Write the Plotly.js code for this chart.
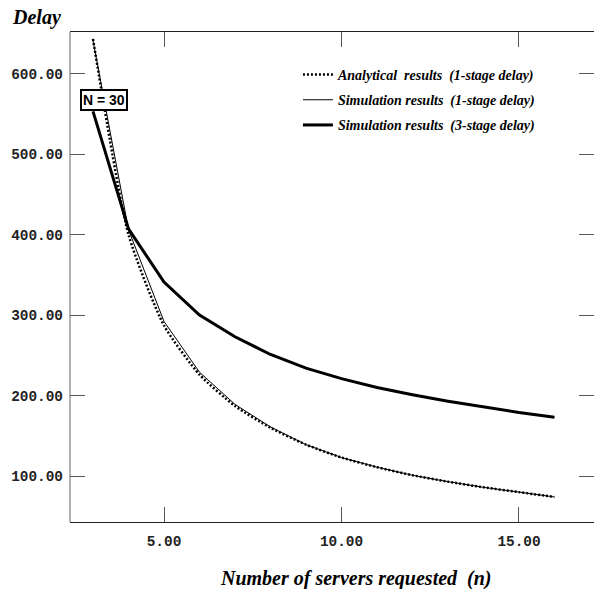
<!DOCTYPE html>
<html>
<head>
<meta charset="utf-8">
<script src="https://cdn.plot.ly/plotly-3.0.1.min.js"></script>
<style>
  html, body { margin: 0; padding: 0; background: #fff; }
  #chart { width: 594px; height: 589px; }
</style>
</head>
<body>
<div id="chart"></div>
<script>
// Number of servers requested (n)
const servers = [3, 4, 5, 6, 7, 8, 9, 10, 11, 12, 13, 14, 15, 16];

// Mean delay, N = 30
const analytical1Stage = [643, 400, 287, 226, 187, 160, 139, 123, 111, 101, 93, 86, 80, 74];
const simulation1Stage = [641, 406, 292, 229, 189, 161, 139, 123, 111, 101, 93, 86, 80, 74];
const simulation3Stage = [553, 407, 341, 300, 273, 251, 234, 221, 210, 201, 193, 186, 179, 173];

const seriesNames = [
  'Analytical\u00a0 results\u00a0 (1-stage delay)',
  'Simulation results\u00a0 (1-stage delay)',
  'Simulation results\u00a0 (3-stage delay)'
];

const serif = 'Liberation Serif, serif';
const mono = 'Liberation Mono, monospace';

const traces = [
  {
    x: servers, y: analytical1Stage, name: seriesNames[0], legendgroup: 'a',
    mode: 'lines', line: { color: '#000', width: 2.5, dash: '2px,2px', shape: 'spline', smoothing: 0.6 }
  },
  {
    x: servers, y: simulation1Stage, name: seriesNames[1], legendgroup: 'b',
    mode: 'lines', line: { color: '#000', width: 1 }
  },
  {
    x: servers, y: simulation3Stage, name: seriesNames[2], legendgroup: 'c',
    mode: 'lines', line: { color: '#000', width: 3 }
  }
];

const tickFont = { family: mono, size: 14.4, weight: 700, color: '#222' };

const layout = {
  width: 594,
  height: 589,
  margin: { l: 70, r: 0, t: 32, b: 67 },
  paper_bgcolor: '#fff',
  plot_bgcolor: '#fff',
  showlegend: true,
  legend: {
    x: 0.435, xanchor: 'left',
    y: 0.945, yanchor: 'top',
    bgcolor: 'rgba(0,0,0,0)',
    traceorder: 'grouped',
    tracegroupgap: 4,
    font: { family: serif, size: 14, weight: 700, style: 'italic', color: '#000' }
  },
  xaxis: {
    range: [2.352, 17.113],
    tickvals: [5, 10, 15],
    tickformat: '.2f',
    ticks: 'inside', ticklen: 15, tickwidth: 1, tickcolor: '#555',
    ticklabelstandoff: 6,
    showline: true, linecolor: '#222', linewidth: 1,
    mirror: 'ticks',
    showgrid: false, zeroline: false,
    tickfont: tickFont
  },
  yaxis: {
    range: [42.9, 651.6],
    tickvals: [100, 200, 300, 400, 500, 600],
    tickformat: '.2f',
    ticks: 'inside', ticklen: 15, tickwidth: 1, tickcolor: '#555',
    ticklabelstandoff: 6,
    showline: false,
    mirror: 'ticks',
    showgrid: false, zeroline: false,
    tickfont: tickFont
  },
  shapes: [
    // left axis line
    { type: 'line', xref: 'paper', yref: 'paper', x0: 0, x1: 0, y0: 0, y1: 1,
      line: { color: '#666', width: 1 } }
  ],
  annotations: [
    {
      text: 'Delay', xref: 'paper', yref: 'paper',
      x: -0.0630, y: 1.0306, xanchor: 'center', yanchor: 'middle', showarrow: false,
      font: { family: serif, size: 20, weight: 700, style: 'italic', color: '#000' }
    },
    {
      text: 'Number of servers requested\u00a0 (n)', xref: 'paper', yref: 'paper',
      x: 0.5454, y: -0.1143, xanchor: 'center', yanchor: 'middle', showarrow: false,
      font: { family: serif, size: 20, weight: 700, style: 'italic', color: '#000' }
    },
    {
      text: 'N = 30', xref: 'x', yref: 'y',
      x: 3.31, y: 567.5, xanchor: 'center', yanchor: 'middle', showarrow: false,
      bgcolor: '#fff', bordercolor: '#000', borderwidth: 2, borderpad: 1,
      font: { family: 'Liberation Sans, sans-serif', size: 14, weight: 700, color: '#000' }
    }
  ]
};

Plotly.newPlot('chart', traces, layout, { staticPlot: true, displayModeBar: false });
</script>
</body>
</html>
